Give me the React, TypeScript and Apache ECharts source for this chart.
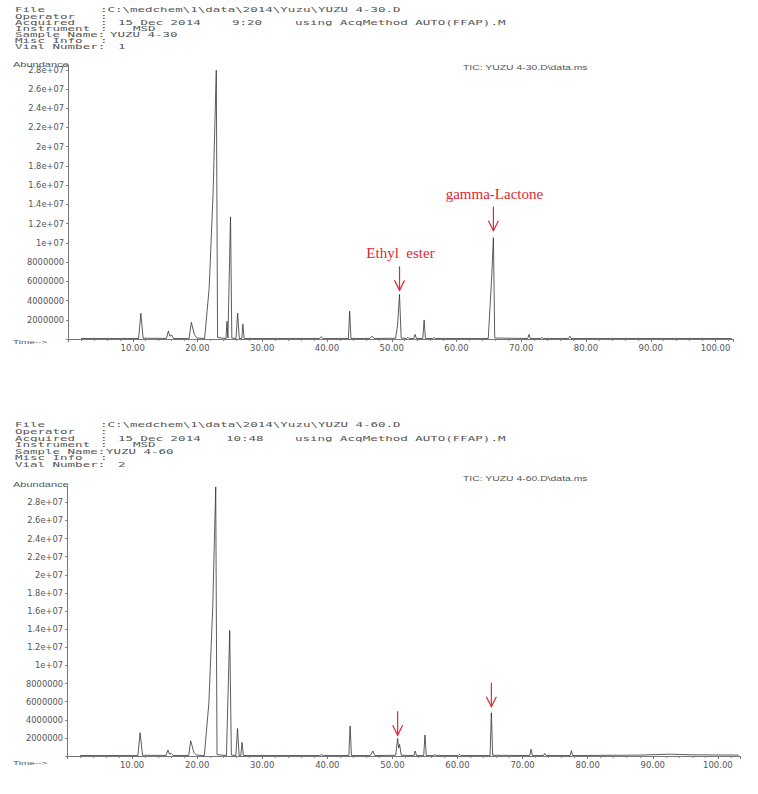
import { useEffect, useRef } from "react";
import * as echarts from "echarts";

// ---------- data: run 1 (YUZU 4-30) ----------
const run1Time = [
  2.0, 10.9, 11.25, 11.6, 15.2, 15.5, 15.75, 16.0, 16.3, 18.7, 19.05, 19.5, 19.9,
  21.1, 21.8, 22.4, 22.9, 23.1, 24.4, 24.55, 24.7, 25.1, 25.3, 25.95, 26.2, 26.45,
  26.85, 27.0, 27.2, 38.8, 39.1, 39.4, 43.3, 43.5, 43.7, 46.6, 46.8, 47.0, 47.3,
  50.6, 50.9, 51.2, 51.45, 52.3, 52.5, 52.7, 53.4, 53.6, 53.8, 54.8, 55.0, 55.2,
  56.3, 56.5, 56.7, 64.9, 65.4, 65.7, 65.9, 71.0, 71.2, 71.4, 73.0, 73.2, 73.4,
  77.3, 77.5, 77.7, 102.5,
];
const run1Abund = [
  50000, 50000, 2670000, 80000, 60000, 830000, 290000, 420000, 50000, 60000, 1740000, 480000, 100000,
  50000, 5300000, 15000000, 27950000, 150000, 50000, 1840000, 100000, 12700000, 100000, 50000, 2700000, 50000,
  50000, 1550000, 50000, 50000, 240000, 50000, 50000, 2900000, 50000, 50000, 190000, 290000, 50000,
  80000, 1450000, 4640000, 100000, 50000, 190000, 50000, 50000, 480000, 50000, 50000, 1980000, 50000,
  50000, 150000, 50000, 50000, 6000000, 10540000, 100000, 50000, 480000, 50000, 50000, 150000, 50000,
  50000, 290000, 50000, 50000,
];

// ---------- data: run 2 (YUZU 4-60) ----------
const run2Time = [
  2.0, 10.9, 11.23, 11.6, 15.2, 15.5, 15.75, 16.0, 16.3, 18.7, 19.0, 19.5, 19.9,
  21.1, 21.8, 22.4, 22.85, 23.05, 24.5, 25.0, 25.25, 25.95, 26.2, 26.45, 26.7, 26.9, 27.1,
  38.8, 39.1, 39.4, 43.3, 43.5, 43.7, 46.6, 47.0, 47.3, 50.5, 50.8, 50.95, 51.1, 51.35,
  53.3, 53.5, 53.7, 54.8, 55.0, 55.2, 56.3, 56.5, 56.7, 60.1, 60.3, 60.5,
  65.0, 65.2, 65.4, 71.1, 71.3, 71.5, 73.2, 73.4, 73.6, 77.3, 77.5, 77.7,
  88.0, 92.5, 96.0, 103.2,
];
const run2Abund = [
  50000, 50000, 2570000, 80000, 60000, 660000, 200000, 290000, 50000, 60000, 1690000, 390000, 100000,
  50000, 5860000, 16600000, 29700000, 150000, 50000, 13860000, 100000, 50000, 3030000, 50000, 50000, 1510000, 50000,
  50000, 150000, 50000, 50000, 3320000, 50000, 50000, 550000, 50000, 80000, 1950000, 880000, 1270000, 80000,
  50000, 550000, 50000, 50000, 2310000, 50000, 50000, 150000, 50000, 50000, 200000, 50000,
  50000, 4780000, 80000, 50000, 740000, 50000, 50000, 290000, 50000, 50000, 590000, 50000,
  100000, 200000, 130000, 100000,
];

// ---------- annotations ----------
const annotLabels = ["Ethyl  ester", "gamma-Lactone"];
const run1AnnotTimes = [51.2, 65.7];
const run2AnnotTimes = [50.8, 65.2];

// ---------- header texts ----------
const fieldLabels = ["File", "Operator", "Acquired", "Instrument", "Sample Name:", "Misc Info", "Vial Number:"];
const run1Header = {
  file: ":C:\\medchem\\1\\data\\2014\\Yuzu\\YUZU 4-30.D",
  date: "15 Dec 2014",
  time: "9:20",
  method: "using AcqMethod AUTO(FFAP).M",
  instrument: "MSD",
  sample: "YUZU 4-30",
  vial: "1",
  tic: "TIC: YUZU 4-30.D\\data.ms",
};
const run2Header = {
  file: ":C:\\medchem\\1\\data\\2014\\Yuzu\\YUZU 4-60.D",
  date: "15 Dec 2014",
  time: "10:48",
  method: "using AcqMethod AUTO(FFAP).M",
  instrument: "MSD",
  sample: "YUZU 4-60",
  vial: "2",
  tic: "TIC: YUZU 4-60.D\\data.ms",
};

const TEXT_GRAY = "#555";
const MONO = '12.5px "DejaVu Sans Mono"';
const RED = "#e3262f";

function monoText(x: number, y: number, text: string) {
  return {
    type: "text",
    x,
    y,
    scaleY: 0.58,
    silent: true,
    style: { text, font: MONO, fill: TEXT_GRAY, verticalAlign: "middle", align: "left" },
  };
}

function sansText(x: number, y: number, text: string, size: number, sy: number) {
  return {
    type: "text",
    x,
    y,
    scaleY: sy,
    silent: true,
    style: {
      text,
      font: `${size}px "Liberation Sans"`,
      fill: TEXT_GRAY,
      verticalAlign: "middle",
      align: "left",
    },
  };
}

function headerElements(h: any, y0: number, step: number, timeX: number, methodX: number, sampleX: number) {
  const els: any[] = [];
  fieldLabels.forEach((lab, i) => els.push(monoText(15, y0 + i * step, lab)));
  els.push(monoText(100, y0, h.file));
  els.push(monoText(100, y0 + step, ":"));
  els.push(monoText(100, y0 + 2 * step, ":"));
  els.push(monoText(118, y0 + 2 * step, h.date));
  els.push(monoText(timeX, y0 + 2 * step, h.time));
  els.push(monoText(methodX, y0 + 2 * step, h.method));
  els.push(monoText(100, y0 + 3 * step, ":"));
  els.push(monoText(133, y0 + 3 * step, h.instrument));
  els.push(monoText(sampleX, y0 + 4 * step, h.sample));
  els.push(monoText(100, y0 + 5 * step, ":"));
  els.push(monoText(118, y0 + 6 * step, h.vial));
  return els;
}

function yFormatter(v: number) {
  if (v <= 0 || v > 28000000 || v % 2000000 !== 0) return "";
  return v >= 10000000 ? v.toExponential().replace(/e\+(\d)$/, "e+0$1") : String(v);
}
function xFormatter(v: number) {
  if (v <= 0 || Math.abs(v % 10) > 1e-9) return "";
  return v.toFixed(2);
}

function zip(t: number[], a: number[]) {
  return t.map((x, i) => [x, a[i]]);
}

function peakNear(t: number[], a: number[], at: number) {
  let best = 0;
  t.forEach((x, i) => {
    if (Math.abs(x - at) <= 0.35 && a[i] > best) best = a[i];
  });
  return best;
}

function makeXAxis(gridIndex: number, max: number) {
  return {
    type: "value",
    gridIndex,
    min: 0,
    max,
    interval: 10,
    axisLine: { lineStyle: { color: "#777", width: 1 } },
    axisTick: { show: true, length: 3, lineStyle: { color: "#777" } },
    minorTick: { show: true, splitNumber: 5, length: 2, lineStyle: { color: "#888" } },
    splitLine: { show: false },
    axisLabel: {
      formatter: xFormatter,
      fontSize: 8.5,
      fontFamily: "DejaVu Sans",
      color: TEXT_GRAY,
      margin: 4,
      showMaxLabel: false,
    },
  };
}

function makeYAxis(gridIndex: number, max: number) {
  return {
    type: "value",
    gridIndex,
    min: 0,
    max,
    interval: 2000000,
    axisLine: { show: true, lineStyle: { color: "#777", width: 1 } },
    axisTick: { show: true, length: 2, lineStyle: { color: "#888" } },
    splitLine: { show: false },
    axisLabel: {
      formatter: yFormatter,
      fontSize: 8.3,
      fontFamily: "DejaVu Sans",
      color: TEXT_GRAY,
      margin: 4,
    },
  };
}

export default function App() {
  const ref = useRef<HTMLDivElement>(null);

  useEffect(() => {
    if (!ref.current) return;
    const chart = echarts.init(ref.current, undefined, { renderer: "svg" });

    const staticGraphics: any[] = [
      ...headerElements(run1Header, 10, 6.1, 232, 295, 110),
      ...headerElements(run2Header, 425, 6.6, 226, 295, 106),
      sansText(13, 65, "Abundance", 11, 0.62),
      sansText(13, 485, "Abundance", 11, 0.62),
      sansText(13, 342, "Time-->", 10, 0.62),
      sansText(13, 763, "Time-->", 10, 0.62),
      sansText(463, 68, run1Header.tic, 10.4, 0.7),
      sansText(463, 479, run2Header.tic, 10.4, 0.7),
    ];

    const option: any = {
      animation: false,
      backgroundColor: "#fff",
      grid: [
        { left: 68, right: 25, top: 65, bottom: 455, containLabel: false },
        { left: 67, right: 18, top: 486, bottom: 38, containLabel: false },
      ],
      xAxis: [makeXAxis(0, 102.7), makeXAxis(1, 103.4)],
      yAxis: [makeYAxis(0, 28500000), makeYAxis(1, 29800000)],
      series: [
        {
          type: "line",
          xAxisIndex: 0,
          yAxisIndex: 0,
          data: zip(run1Time, run1Abund),
          showSymbol: false,
          silent: true,
          lineStyle: { color: "#333", width: 0.8 },
        },
        {
          type: "line",
          xAxisIndex: 1,
          yAxisIndex: 1,
          data: zip(run2Time, run2Abund),
          showSymbol: false,
          silent: true,
          lineStyle: { color: "#333", width: 0.8 },
        },
      ],
      graphic: staticGraphics,
    };
    chart.setOption(option);

    const arrows: any[] = [];
    const addArrow = (grid: number, t: number, v: number, gap: number, label?: string) => {
      const p = chart.convertToPixel({ gridIndex: grid } as any, [t, v]) as number[];
      const x = p[0];
      const tip = p[1] - gap;
      const tail = tip - 24;
      arrows.push({
        type: "line",
        silent: true,
        shape: { x1: x, y1: tail, x2: x, y2: tip },
        style: { stroke: RED, lineWidth: 1.2 },
      });
      arrows.push({
        type: "polyline",
        silent: true,
        shape: { points: [[x - 5, tip - 10], [x, tip], [x + 5, tip - 10]] },
        style: { stroke: RED, lineWidth: 1.2, fill: null },
      });
      if (label) {
        arrows.push({
          type: "text",
          silent: true,
          x: x + 1,
          y: tail - 13,
          style: {
            text: label,
            font: '15px "Liberation Serif"',
            fill: RED,
            align: "center",
            verticalAlign: "middle",
          },
        });
      }
    };
    run1AnnotTimes.forEach((t, i) =>
      addArrow(0, t, peakNear(run1Time, run1Abund, t), i === 0 ? 4 : 7, annotLabels[i])
    );
    run2AnnotTimes.forEach((t, i) => addArrow(1, t, peakNear(run2Time, run2Abund, t), i === 0 ? 3 : 6));

    chart.setOption({ graphic: [...staticGraphics, ...arrows] });

    return () => chart.dispose();
  }, []);

  return (
    <div
      ref={ref}
      style={{ position: "absolute", left: 0, top: 0, width: 758, height: 794, background: "#fff" }}
    />
  );
}
